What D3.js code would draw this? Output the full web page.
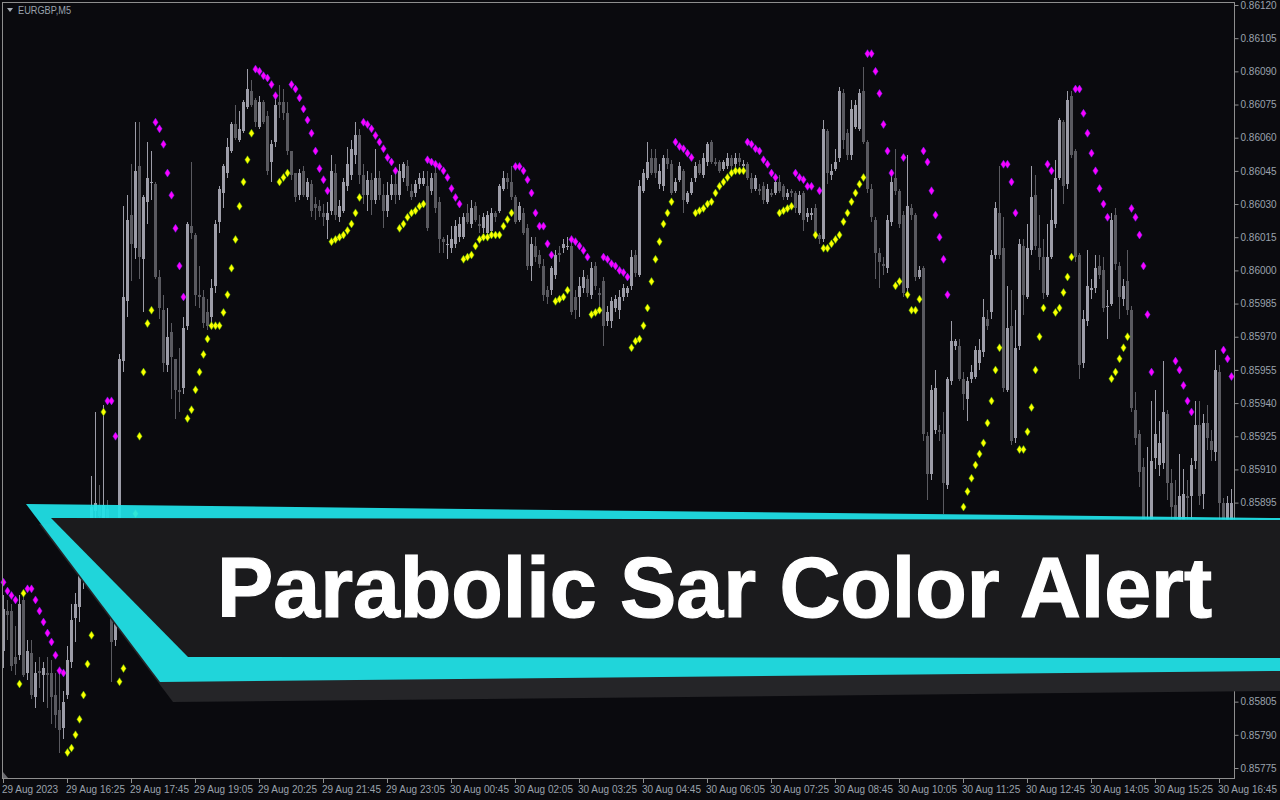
<!DOCTYPE html>
<html>
<head>
<meta charset="utf-8">
<script src="https://cdn.jsdelivr.net/npm/d3@7"></script>
<style>
html,body{margin:0;padding:0;background:#0a0a0e;}
svg{display:block;}
</style>
</head>
<body>
<svg id="chart" width="1280" height="800"></svg>
<script>
// ---------- DATA (prices in 1e-5 units, EURGBP M5) ----------
const symbolLabel = "EURGBP,M5";
const bannerTitle = "Parabolic Sar Color Alert";
const timeLabels = ["29 Aug 2023","29 Aug 16:25","29 Aug 17:45","29 Aug 19:05","29 Aug 20:25","29 Aug 21:45","29 Aug 23:05","30 Aug 00:45","30 Aug 02:05","30 Aug 03:25","30 Aug 04:45","30 Aug 06:05","30 Aug 07:25","30 Aug 08:45","30 Aug 10:05","30 Aug 11:25","30 Aug 12:45","30 Aug 14:05","30 Aug 15:25","30 Aug 16:45"];
const timeTickBars = [0,16,32,48,64,80,96,112,128,144,160,176,192,208,224,240,256,272,288,304];
const priceTicks = [86120,86105,86090,86075,86060,86045,86030,86015,86000,85985,85970,85955,85940,85925,85910,85895,85880,85865,85850,85835,85820,85805,85790,85775];

const open = [
85828,85846,85846,85825,85826,85851,85818,85827,85807,85819,
85817,85818,85818,85808,85801,85793,85808,85823,85843,85848,
85862,85868,85883,85891,85894,85887,85892,85851,85833,85845,
85959,85986,86025,86010,86047,86005,86031,86040,86039,85997,
85982,85957,85972,85960,85946,85947,85975,86020,86016,85989,
85988,85981,85979,85993,86022,86035,86044,86054,86066,86059,
86063,86074,86081,86077,86065,86076,86070,86049,86058,86076,
86076,86071,86054,86044,86034,86045,86033,86039,86030,86029,
86026,86023,86027,86044,86024,86027,86038,86043,86052,86061,
86043,86034,86041,86032,86042,86034,86027,86034,86039,86034,
86042,86047,86036,86035,86039,86039,86038,86036,86044,86031,
86014,86012,86010,86012,86015,86015,86026,86021,86029,86021,
86019,86017,86018,86026,86027,86037,86042,86040,86033,86023,
86026,86019,86002,86011,86007,86002,85991,85991,85998,86008,
86010,86011,86011,85988,85988,85992,85996,85989,86002,85990,
85995,85977,85977,85983,85982,85988,85990,85993,86007,85998,
86036,86042,86051,86051,86039,86038,86051,86048,86036,86041,
86045,86031,86035,86042,86048,86043,86049,86058,86049,86049,
86046,86047,86051,86048,86051,86047,86048,86042,86037,86037,
86038,86031,86035,86035,86040,86038,86033,86036,86035,86026,
86035,86024,86025,86028,86016,86014,86063,86043,86046,86051,
86080,86062,86052,86065,86064,86081,86058,86037,86023,86008,
86003,86001,86022,86042,86036,86025,85992,86028,86025,85997,
86001,85925,85908,85928,85928,85926,85903,85950,85966,85966,
85951,85942,85951,85952,85958,85963,85978,85981,86007,86026,
86010,85946,85975,85924,85966,86011,85988,86009,86034,86010,
86006,85989,86006,86021,86042,86067,86039,86079,86054,86007,
85958,85977,85991,85992,86002,86000,85984,85985,86025,86002,
85987,85995,85982,85937,85926,85911,85878,85876,85915,85912,
85913,85935,85904,85894,85878,85880,85898,85898,85914,85930,
85899,85931,85923,85918,85954,85895,85878,85883];

const high = [
85853,85851,85849,85839,85853,85855,85833,85833,85823,85825,
85823,85825,85824,85818,85820,85810,85830,85849,85854,85869,
85874,85887,85907,85936,85903,85939,85896,85856,85851,85962,
86029,86034,86048,86067,86067,86034,86058,86054,86040,86000,
85989,85983,85976,85960,85965,85979,86022,86049,86017,86002,
85991,85987,85996,86023,86038,86048,86060,86067,86075,86072,
86077,86091,86086,86078,86079,86077,86072,86059,86079,86084,
86082,86076,86054,86044,86046,86047,86042,86041,86033,86032,
86030,86031,86052,86048,86032,86042,86056,86059,86067,86064,
86048,86045,86044,86055,86045,86039,86040,86043,86044,86048,
86049,86050,86039,86041,86044,86045,86045,86044,86049,86033,
86015,86016,86020,86023,86024,86026,86030,86032,86031,86025,
86026,86027,86028,86027,86039,86045,86044,86047,86034,86031,
86028,86021,86015,86015,86009,86005,85993,86002,86009,86011,
86014,86015,86013,85991,85997,86000,85998,86004,86004,85992,
85997,85984,85988,85989,85991,85994,85993,86009,86009,86041,
86046,86058,86055,86055,86048,86052,86055,86050,86042,86049,
86046,86036,86042,86049,86050,86053,86058,86059,86051,86050,
86050,86053,86052,86053,86053,86050,86049,86044,86043,86039,
86040,86039,86037,86042,86043,86039,86037,86037,86036,86036,
86036,86028,86028,86030,86017,86068,86064,86048,86055,86083,
86082,86064,86077,86077,86082,86092,86059,86039,86024,86010,
86006,86025,86045,86055,86037,86027,86052,86030,86026,86002,
86002,85927,85948,85955,85930,85936,85952,85977,85969,85969,
85954,85952,85957,85966,85969,85987,85982,86009,86031,86047,
86024,85993,85991,85982,86014,86014,86021,86047,86043,86025,
86014,86021,86037,86050,86069,86068,86081,86081,86055,86008,
85982,86009,85996,86007,86007,86006,85991,86026,86028,86004,
85996,86009,85984,85945,85928,85915,85920,85941,85946,85932,
85959,85937,85910,85905,85917,85910,85905,85915,85941,85941,
85935,85939,85928,85964,85957,85897,85898,85901];

const low = [
85820,85833,85819,85817,85824,85816,85815,85806,85802,85811,
85805,85802,85795,85793,85782,85788,85806,85820,85832,85841,
85856,85865,85878,85883,85883,85878,85846,85814,85830,85842,
85954,85979,85995,86005,85996,85981,86021,86032,85996,85978,
85954,85954,85942,85933,85936,85944,85973,86014,85984,85983,
85974,85973,85976,85990,86017,86028,86042,86053,86059,86058,
86062,86073,86074,86065,86064,86066,86043,86040,86056,86069,
86068,86052,86041,86031,86032,86033,86032,86024,86023,86024,
86020,86014,86025,86023,86022,86026,86036,86041,86048,86039,
86030,86027,86025,86030,86032,86019,86024,86032,86030,86032,
86040,86036,86032,86033,86037,86038,86018,86034,86026,86008,
86008,86005,86008,86010,86013,86014,86021,86019,86022,86017,
86017,86016,86017,86022,86026,86036,86037,86032,86021,86022,
86016,86000,85995,86004,86001,85986,85985,85989,85996,86004,
86008,86009,85980,85978,85979,85990,85988,85987,85991,85984,
85966,85975,85974,85981,85978,85986,85988,85991,85997,85997,
86035,86041,86043,86042,86037,86036,86046,86034,86035,86040,
86026,86030,86034,86040,86043,86042,86047,86048,86047,86044,
86045,86046,86045,86046,86047,86045,86041,86035,86036,86034,
86030,86030,86033,86034,86035,86032,86032,86033,86026,86025,
86018,86022,86023,86014,86012,86013,86039,86041,86045,86049,
86055,86050,86050,86064,86063,86057,86035,86022,85996,85992,
85998,85999,86020,86034,86019,85988,85990,86023,85995,85996,
85923,85896,85905,85926,85923,85890,85901,85948,85964,85950,
85937,85932,85949,85951,85955,85961,85973,85978,86005,86005,
85945,85945,85921,85922,85964,85980,85987,86007,86009,86000,
85987,85988,86005,86019,86041,86030,86037,86051,86004,85951,
85956,85975,85987,85990,85996,85981,85969,85984,86000,85978,
85984,85980,85936,85921,85902,85869,85869,85869,85910,85907,
85910,85896,85883,85874,85876,85878,85883,85887,85910,85894,
85892,85919,85914,85914,85878,85869,85874,85876];

const close = [
85847,85844,85821,85822,85849,85817,85828,85808,85818,85818,
85820,85817,85807,85799,85792,85805,85824,85842,85849,85862,
85868,85878,85893,85895,85889,85894,85851,85832,85845,85960,
85988,86023,86012,86045,86006,86033,86042,86040,85997,85983,
85958,85970,85961,85946,85945,85974,86021,86017,85989,85988,
85976,85975,85992,86021,86037,86047,86056,86066,86060,86064,
86076,86082,86075,86067,86076,86067,86045,86057,86075,86075,
86071,86054,86043,86033,86044,86034,86040,86027,86028,86027,
86024,86026,86045,86025,86029,86040,86048,86055,86061,86043,
86034,86041,86032,86042,86034,86027,86034,86039,86034,86045,
86048,86038,86033,86039,86042,86042,86019,86042,86028,86014,
86013,86012,86014,86020,86021,86024,86022,86028,86023,86020,
86024,86025,86026,86024,86038,86042,86040,86033,86022,86029,
86017,86002,86012,86006,86003,85989,85988,86001,86007,86007,
86012,86011,85981,85982,85993,85997,85990,86001,85993,85989,
85975,85981,85986,85987,85988,85992,85992,86006,85999,86038,
86044,86049,86044,86044,86045,86051,86048,86035,86040,86047,
86032,86035,86040,86047,86044,86051,86057,86049,86048,86045,
86049,86051,86047,86051,86049,86048,86042,86037,86042,86036,
86032,86037,86034,86040,86036,86033,86035,86035,86028,86034,
86023,86026,86026,86016,86014,86064,86044,86045,86049,86081,
86059,86052,86073,86075,86080,86058,86037,86024,86008,86004,
86002,86023,86040,86036,86021,85990,86029,86025,85997,86000,
85926,85908,85946,85947,85927,85904,85951,85968,85968,85951,
85944,85950,85954,85964,85964,85979,85975,86007,86028,86007,
85947,85974,85923,85965,86012,85989,86010,86033,86011,86006,
85990,86006,86023,86042,86068,86038,86077,86052,86006,85957,
85978,85993,85992,86001,85998,85983,85984,86023,86003,85988,
85993,85982,85938,85924,85909,85878,85887,85914,85926,85922,
85936,85904,85893,85883,85898,85899,85897,85912,85930,85898,
85931,85924,85919,85955,85895,85878,85895,85895];

const sar = [
85859,85855,85853,85851,85813,85854,85856,85856,85851,85846,
85841,85836,85832,85826,85819,85818,85782,85784,85790,85797,
85808,85822,85835,85856,85858,85936,85941,85941,85925,85814,
85820,85837,85862,85890,85925,85954,85976,85982,86067,86064,
86057,86044,86034,86019,86002,85988,85933,85937,85946,85954,
85962,85969,85975,85975,85975,85981,85989,86001,86014,86029,
86040,86050,86062,86091,86090,86088,86087,86084,86079,86040,
86042,86044,86084,86082,86078,86073,86068,86062,86054,86046,
86041,86036,86013,86014,86015,86016,86018,86021,86026,86033,
86067,86066,86064,86061,86058,86055,86051,86049,86045,86019,
86021,86024,86026,86027,86029,86030,86050,86049,86048,86047,
86045,86042,86037,86033,86030,86005,86006,86007,86011,86014,
86015,86015,86016,86016,86016,86020,86023,86026,86047,86047,
86045,86041,86035,86026,86020,86020,86012,86007,85986,85987,
85988,85991,86014,86013,86011,86009,86006,85980,85981,85982,
86006,86005,86003,86002,86000,85999,85997,85965,85968,85969,
85975,85983,85995,86005,86013,86021,86026,86031,86058,86056,
86055,86053,86051,86026,86027,86028,86030,86031,86035,86038,
86040,86042,86044,86045,86045,86045,86058,86057,86055,86054,
86050,86048,86044,86042,86026,86027,86028,86029,86044,86042,
86041,86038,86038,86016,86036,86010,86010,86012,86014,86016,
86022,86026,86031,86035,86039,86042,86098,86098,86090,86080,
86066,86054,86044,85993,85995,86051,85989,85982,85982,85987,
86054,86049,86036,86025,86015,86005,85989,85876,85880,85885,
85893,85900,85906,85912,85917,85922,85931,85941,85955,85965,
86048,86048,86040,86026,85919,85919,85927,85938,85955,85970,
85983,86048,86045,85981,85983,85990,85997,86006,86082,86082,
86071,86062,86053,86045,86037,86030,86024,85951,85954,85960,
85965,85970,86028,86024,86016,86002,85980,85954,85865,85867,
85869,85871,85874,85959,85955,85948,85941,85936,85860,85862,
85865,85867,85869,85871,85874,85964,85960,85952];

// SAR colour per bar: M = magenta (above price), Y = yellow (below price)
const sarSide = ("MMMM YY MMMMMMMMMM YYYYYYYYYY MMM YYYYYYYYY MMMMMMMM YYYYYYYYYYYYYYYYY MMMMMM YYY " +
  "MMMMMMMMMM YYYYYYYY MMMMMMMMM YYYYYYY MMMMMMMMM YYYYYYYYYYYYY MMMMMMMMMM YYYY MMMMM YYY " +
  "MMMMMMM YYYYYYYYYYY MMMMM YYYYYYYYYYYYY MMMMMMMM YYYY MMMMM Y M YYYYYYYYYYY MMMMMMM YY M YYYY " +
  "MMMMMMM YYYYYYYYYYYYY MMMM YYYYYYY MM YYYYY MMMMMMMMM YYYYY MMMMMM YYYYY MMMMM YYYYYYY MMM").replace(/ /g, "").split("");

// ---------- DRAWING ----------
const svg = d3.select("#chart");
const n = close.length;
const bars = d3.range(n).map(i => ({i, o: open[i], h: high[i], l: low[i], c: close[i], s: sar[i], side: sarSide[i]}));

const frame = {left: 2.5, top: 2.5, right: 1234.5, bottom: 778.5};
const x = d3.scaleLinear().domain([0, n - 1]).range([3.5, 3.5 + 4 * (n - 1)]);
const y = d3.scaleLinear().domain([85775, 86120]).range([768, 5]);

const C = {
  bg: "#0a0a0e", frame: "#8e8e8e", label: "#9aa2ad",
  bull: "#9d9da8", bear: "#5a5a60",
  magenta: "#ff00ff", yellow: "#ffff00"
};

svg.append("rect").attr("width", 1280).attr("height", 800).attr("fill", C.bg);

// candles
const cg = svg.append("g").attr("shape-rendering", "crispEdges");
cg.selectAll("line.wick").data(bars).join("line")
  .attr("class", "wick")
  .attr("x1", d => x(d.i)).attr("x2", d => x(d.i))
  .attr("y1", d => y(d.h)).attr("y2", d => y(d.l))
  .attr("stroke", d => d.c >= d.o ? C.bull : C.bear)
  .attr("stroke-width", 1);
cg.selectAll("rect.body").data(bars).join("rect")
  .attr("class", "body")
  .attr("x", d => x(d.i) - 1.5)
  .attr("width", 3)
  .attr("y", d => y(Math.max(d.o, d.c)))
  .attr("height", d => Math.max(1, y(Math.min(d.o, d.c)) - y(Math.max(d.o, d.c))))
  .attr("fill", d => d.c >= d.o ? C.bull : C.bear);

// SAR diamonds
const diamond = "M0,-4L2.6,0L0,4L-2.6,0Z";
svg.append("g").selectAll("path").data(bars).join("path")
  .attr("d", diamond)
  .attr("transform", d => `translate(${x(d.i)},${y(d.s)})`)
  .attr("fill", d => d.side === "M" ? C.magenta : C.yellow)
  .attr("stroke", d => d.side === "M" ? "#7a22ff" : "#58c000")
  .attr("stroke-width", 0.5);

// frame
svg.append("rect")
  .attr("x", frame.left).attr("y", frame.top)
  .attr("width", frame.right - frame.left).attr("height", frame.bottom - frame.top)
  .attr("fill", "none").attr("stroke", C.frame).attr("stroke-width", 1);

// right price axis
const yAxis = d3.axisRight(y).tickValues(priceTicks).tickSize(4).tickPadding(2)
  .tickFormat(d => (d / 1e5).toFixed(5));
svg.append("g").attr("transform", `translate(${frame.right},0)`).call(yAxis)
  .call(g => g.select(".domain").remove())
  .call(g => g.selectAll("line").attr("stroke", C.frame))
  .call(g => g.selectAll("text").attr("fill", C.label)
    .attr("font-family", "'Liberation Sans', Arial, sans-serif").attr("font-size", 10));

// bottom time axis
const xAxis = d3.axisBottom(x).tickValues(timeTickBars).tickSize(4).tickPadding(3).offset(0)
  .tickFormat((d, k) => timeLabels[k]);
svg.append("g").attr("transform", `translate(-0.5,${frame.bottom})`).call(xAxis)
  .call(g => g.select(".domain").remove())
  .call(g => g.selectAll("line").attr("stroke", C.frame).attr("shape-rendering", "crispEdges"))
  .call(g => g.selectAll("text").attr("fill", C.label).attr("text-anchor", "start").attr("dx", -1)
    .attr("font-family", "'Liberation Sans', Arial, sans-serif").attr("font-size", 10));

// small corner marker
svg.append("path").attr("d", "M3,772L3,778L8,778Z").attr("fill", "#6a6a70");

// symbol header
svg.append("path").attr("d", "M7,8L13,8L10,12Z").attr("fill", "#a8aeb6");
svg.append("text").attr("x", 18).attr("y", 14).text(symbolLabel)
  .attr("fill", C.label).attr("font-family", "'Liberation Sans', Arial, sans-serif").attr("font-size", 10.5)
  .attr("textLength", 53).attr("lengthAdjust", "spacingAndGlyphs");

// ---------- BANNER ----------
const banner = svg.append("g");
const shadowPts = [[39,524],[1280,538],[1280,691],[173,702]];
const cyanPts = [[26,504],[1280,518],[1280,671],[160,682]];
const innerPts = [[51,518],[1280,520],[1280,658],[188,657]];
const line = d3.line();
banner.append("path").attr("d", line(shadowPts) + "Z").attr("fill", "#252528");
banner.append("path").attr("d", line(cyanPts) + "Z").attr("fill", "#20e3e8").attr("fill-opacity", 0.93);
banner.append("path").attr("d", line(innerPts) + "Z").attr("fill", "#1b1b1d");
banner.append("text").attr("x", 217).attr("y", 617).text(bannerTitle)
  .attr("fill", "#ffffff").attr("font-family", "'Liberation Sans', Arial, Helvetica, sans-serif")
  .attr("font-weight", 700).attr("font-size", 85)
  .attr("stroke", "#ffffff").attr("stroke-width", 1.2)
  .attr("textLength", 995).attr("lengthAdjust", "spacingAndGlyphs");
</script>
</body>
</html>
